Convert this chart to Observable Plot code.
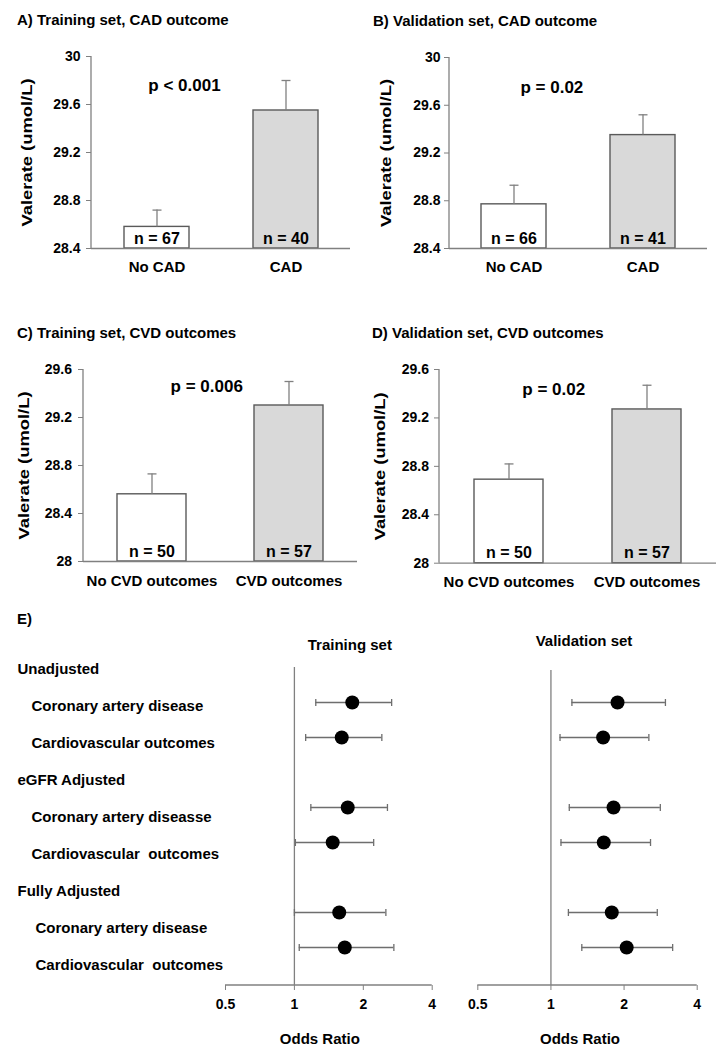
<!DOCTYPE html>
<html><head><meta charset="utf-8">
<script src="https://cdn.jsdelivr.net/npm/d3@7"></script>
<script src="https://cdn.jsdelivr.net/npm/@observablehq/plot@0.6"></script>
<style>
body{margin:0;background:#fff;}
#root{position:relative;width:716px;height:1050px;overflow:hidden;font-family:"Liberation Sans",Arial,sans-serif;background:#fff;}
.title{position:absolute;font-weight:bold;font-size:15px;line-height:15px;white-space:nowrap;color:#000;}
#root svg{position:absolute;}
#root text{white-space:pre;}
</style></head><body><div id="root"></div>
<script>
// ---------- data ----------
const panelTitles = ["A) Training set, CAD outcome", "B) Validation set, CAD outcome", "C) Training set, CVD outcomes", "D) Validation set, CVD outcomes", "E)"];
const yLabel = "Valerate (umol/L)";
const catsCAD = ["No CAD", "CAD"];
const catsCVD = ["No CVD outcomes", "CVD outcomes"];
const ticksCAD = [28.4, 28.8, 29.2, 29.6, 30];
const ticksCVD = [28, 28.4, 28.8, 29.2, 29.6];
const aMeans = [28.58, 29.55], aSE = [0.14, 0.25], aN = [67, 40];
const bMeans = [28.77, 29.35], bSE = [0.16, 0.17], bN = [66, 41];
const cMeans = [28.56, 29.30], cSE = [0.17, 0.20], cN = [50, 57];
const dMeans = [28.69, 29.27], dSE = [0.13, 0.20], dN = [50, 57];
const pValues = ["p < 0.001", "p = 0.02", "p = 0.006", "p = 0.02"];

const groupNames = ["Unadjusted", "eGFR Adjusted", "Fully Adjusted"];
const outcomeLabels = [
  ["Coronary artery disease", "Cardiovascular outcomes"],
  ["Coronary artery diseasse", "Cardiovascular  outcomes"],
  ["Coronary artery disease", "Cardiovascular  outcomes"]
];
const forestTitles = ["Training set", "Validation set"];
const xLabelOR = "Odds Ratio";
const orTicks = [0.5, 1, 2, 4];
const trainOR = [1.79, 1.61, 1.71, 1.47, 1.57, 1.66];
const trainLo = [1.24, 1.12, 1.18, 1.01, 1.00, 1.05];
const trainHi = [2.66, 2.41, 2.55, 2.22, 2.51, 2.72];
const validOR = [1.88, 1.64, 1.81, 1.65, 1.78, 2.05];
const validLo = [1.22, 1.09, 1.19, 1.10, 1.18, 1.34];
const validHi = [2.96, 2.53, 2.82, 2.57, 2.74, 3.17];

// ---------- helpers ----------
const FONT = "Liberation Sans, Arial, sans-serif";
const baseStyle = {fontFamily: FONT, fontWeight: "bold", fontSize: "14px", background: "transparent", color: "#000", overflow: "visible"};
const root = document.getElementById("root");
const AXIS = "#808080";
const LABEL_LEN = 148;
const hCap = {draw(ctx, size) { const r = Math.sqrt(size / Math.PI); ctx.moveTo(-r, 0); ctx.lineTo(r, 0); }};
const vCap = {draw(ctx, size) { const r = Math.sqrt(size / Math.PI); ctx.moveTo(0, -r); ctx.lineTo(0, r); }};

function lineMark(side) {
  return (index, scales, values, dims) => {
    const l = document.createElementNS("http://www.w3.org/2000/svg", "line");
    const x0 = dims.marginLeft, x1 = dims.width - dims.marginRight;
    const y0 = dims.marginTop, y1 = dims.height - dims.marginBottom;
    if (side === "left") { l.setAttribute("x1", x0); l.setAttribute("x2", x0); l.setAttribute("y1", y0); l.setAttribute("y2", y1); }
    else { l.setAttribute("x1", x0); l.setAttribute("x2", x1); l.setAttribute("y1", y1); l.setAttribute("y2", y1); }
    l.setAttribute("stroke", AXIS); l.setAttribute("stroke-width", 1.3);
    return l;
  };
}

function place(svg, left, top) {
  svg.style.left = left + "px"; svg.style.top = top + "px";
  root.appendChild(svg);
}
function addTitle(text, left, top) {
  const d = document.createElement("div"); d.className = "title"; d.textContent = text;
  d.style.left = left + "px"; d.style.top = top + "px"; root.appendChild(d);
}

function barPanel(o) {
  const data = o.cats.map((c, i) => ({cat: c, mean: o.means[i], se: o.se[i], n: o.n[i], i}));
  const base = o.ticks[0];
  const svg = Plot.plot({
    width: o.w, height: o.h, marginLeft: o.ml, marginRight: o.mr, marginTop: o.mt, marginBottom: o.mb,
    style: baseStyle,
    x: {type: "band", domain: o.cats, paddingInner: 0.5, paddingOuter: 0.25},
    y: {domain: [base, o.ticks[o.ticks.length - 1]]},
    color: {type: "identity"},
    marks: [
      Plot.barY(data, {x: "cat", y1: base, y2: "mean", fill: d => d.i === 0 ? "#ffffff" : "#d9d9d9", stroke: "#5a5a5a", strokeWidth: 1.4}),
      Plot.ruleX(data, {x: "cat", y1: "mean", y2: d => d.mean + d.se, stroke: AXIS, strokeWidth: 1.3}),
      Plot.dot(data, {x: "cat", y: d => d.mean + d.se, symbol: hCap, r: 4.5, stroke: AXIS, fill: "none", strokeWidth: 1.3}),
      Plot.ruleY([base], {stroke: AXIS, strokeWidth: 1.3}),
      lineMark("left"),
      Plot.axisY({ticks: o.ticks, tickSize: 5, tickPadding: o.tp, tickFormat: d => String(d), fontSize: 14, label: null, stroke: AXIS}),
      Plot.axisX({tickSize: 0, tickPadding: o.xtp, fontSize: 15, label: null}),
      Plot.text(data, {x: "cat", y: base, text: d => "n = " + d.n, dy: -10, fontSize: 16}),
      Plot.text([o.p], {frameAnchor: "top", lineAnchor: "middle", dx: o.pdx, dy: o.pdy, fontSize: 17}),
      Plot.text([yLabel], {frameAnchor: "left", lineAnchor: "middle", textAnchor: "start", rotate: -90, dx: o.ylx - o.ml, fontSize: 14})
    ]
  });
  d3.select(svg).selectAll("text").filter(function() { return this.textContent === yLabel; })
    .attr("x", -LABEL_LEN / 2)
    .attr("textLength", LABEL_LEN).attr("lengthAdjust", "spacingAndGlyphs");
  return svg;
}

// row structure for panel E
const rowKeys = [], headRows = [], itemRows = [], estKeys = [];
groupNames.forEach((g, gi) => {
  rowKeys.push("g" + gi); headRows.push({key: "g" + gi, label: g});
  outcomeLabels[gi].forEach((lab, oi) => {
    const k = "g" + gi + "o" + oi;
    rowKeys.push(k); estKeys.push(k); itemRows.push({key: k, label: lab, g: gi});
  });
});

function forestPanel(o) {
  const est = estKeys.map((k, i) => ({key: k, or: o.or[i], lo: o.lo[i], hi: o.hi[i]}));
  return Plot.plot({
    width: o.w, height: 450, marginLeft: o.ml, marginRight: o.mr, marginTop: o.mt, marginBottom: 65,
    style: baseStyle,
    x: {type: "log", base: 2, domain: [0.5, 4]},
    y: {type: "point", domain: rowKeys, range: [65.6, 348.8], padding: 0, axis: null},
    marks: [
      Plot.ruleX([1], {stroke: AXIS, strokeWidth: 1.3}),
      lineMark("bottom"),
      Plot.axisX({ticks: orTicks, tickFormat: d => String(d), tickSize: 5, tickPadding: 8.5, fontSize: 14, label: null, stroke: AXIS}),
      Plot.ruleY(est, {y: "key", x1: "lo", x2: "hi", stroke: "#6e6e6e", strokeWidth: 1.3}),
      Plot.dot(est, {x: "lo", y: "key", symbol: vCap, r: 3.5, stroke: "#6e6e6e", fill: "none", strokeWidth: 1.3}),
      Plot.dot(est, {x: "hi", y: "key", symbol: vCap, r: 3.5, stroke: "#6e6e6e", fill: "none", strokeWidth: 1.3}),
      Plot.dot(est, {x: "or", y: "key", r: 7, fill: "#000"}),
      Plot.text([o.title], {frameAnchor: "top", lineAnchor: "middle", dx: o.tdx, dy: o.tdy, fontSize: 15}),
      Plot.text([xLabelOR], {frameAnchor: "bottom", lineAnchor: "middle", dx: o.odx, dy: 54, fontSize: 15})
    ]
  });
}

// ---------- panels A-D ----------
place(barPanel({w: 360, h: 290, ml: 91, mr: 10, mt: 56, mb: 42, tp: 6, xtp: 13,
  cats: catsCAD, means: aMeans, se: aSE, n: aN, ticks: ticksCAD, p: pValues[0], pdx: -36.5, pdy: 29, ylx: 27}), 0, 0);
place(barPanel({w: 356, h: 290, ml: 89, mr: 9, mt: 57, mb: 42, tp: 4, xtp: 13,
  cats: catsCAD, means: bMeans, se: bSE, n: bN, ticks: ticksCAD, p: pValues[1], pdx: -26.6, pdy: 30.3, ylx: 26}), 360, 0);
place(barPanel({w: 360, h: 300, ml: 83, mr: 3, mt: 69, mb: 39, tp: 6.5, xtp: 14,
  cats: catsCVD, means: cMeans, se: cSE, n: cN, ticks: ticksCVD, p: pValues[2], pdx: -13.8, pdy: 17, ylx: 24}), 0, 300);
place(barPanel({w: 356, h: 300, ml: 79, mr: 0, mt: 69, mb: 37.3, tp: 5.5, xtp: 13,
  cats: catsCVD, means: dMeans, se: dSE, n: dN, ticks: ticksCVD, p: pValues[3], pdx: -24.3, pdy: 20, ylx: 20}), 360, 300);

// ---------- panel E ----------
const labelSvg = Plot.plot({
  width: 225, height: 450, margin: 0, style: baseStyle,
  y: {type: "point", domain: rowKeys, range: [68, 365], padding: 0, axis: null},
  marks: [
    Plot.text(headRows, {y: "key", text: "label", frameAnchor: "left", textAnchor: "start", dx: 17, fontSize: 15}),
    Plot.text(itemRows.filter(d => d.g < 2), {y: "key", text: "label", frameAnchor: "left", textAnchor: "start", dx: 31, fontSize: 15}),
    Plot.text(itemRows.filter(d => d.g === 2), {y: "key", text: "label", frameAnchor: "left", textAnchor: "start", dx: 35, fontSize: 15})
  ]
});
place(labelSvg, 0, 600);
place(forestPanel({w: 260, ml: 25, mr: 28.3, mt: 67, or: trainOR, lo: trainLo, hi: trainHi, title: forestTitles[0], tdx: 21, tdy: -22, odx: -9}), 200, 600);
place(forestPanel({w: 256, ml: 17.3, mr: 19.3, mt: 70, or: validOR, lo: validLo, hi: validHi, title: forestTitles[1], tdx: -3.5, tdy: -29, odx: -7.5}), 460, 600);

// ---------- titles ----------
addTitle(panelTitles[0], 17, 11.5);
addTitle(panelTitles[1], 373, 13);
addTitle(panelTitles[2], 17, 324.5);
addTitle(panelTitles[3], 372, 324.5);
addTitle(panelTitles[4], 17, 611);
</script></body></html>
